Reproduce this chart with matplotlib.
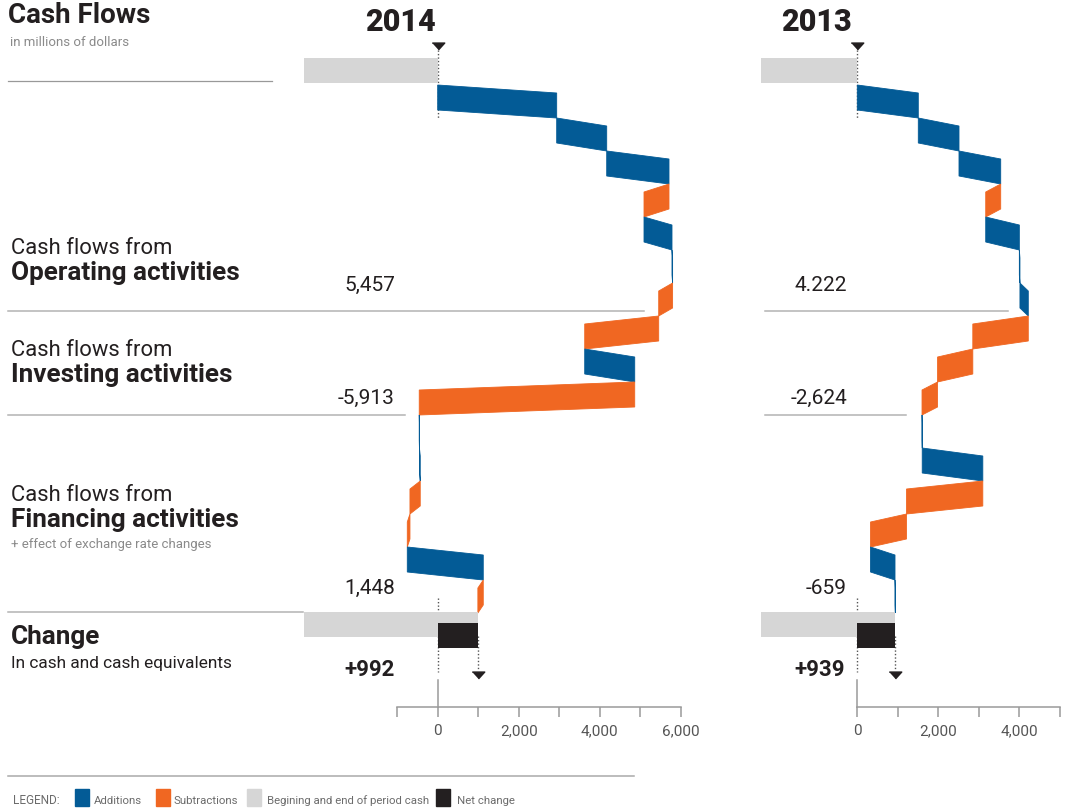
import matplotlib
matplotlib.use("Agg")
import matplotlib.pyplot as plt
from matplotlib.lines import Line2D
from matplotlib.patches import Rectangle
import numpy as np

# Cash flow items in millions of dollars (top to bottom)
ops_2014 = [2938, 1235, 1538, -617, 691, 15, -343]
inv_2014 = [-1827, 1235, -5321]
fin_2014 = [5, 20, -254, -66, 1876, -133]
begin_cash_2014 = 3309

ops_2013 = [1506, 1005, 1030, -370, 830, 15, 206]
inv_2013 = [-1370, -870, -384]
fin_2013 = [5, 1496, -1884, -889, 605, 8]
begin_cash_2013 = 2370

subtotals_2014 = ["5,457", "-5,913", "1,448"]
subtotals_2013 = ["4.222", "-2,624", "-659"]
net_2014 = "+992"
net_2013 = "+939"

section_heads = ["Operating activities", "Investing activities", "Financing activities"]
legend_labels = ["Additions", "Subtractions", "Begining and end of period cash", "Net change"]

BLUE = "#035b96"
ORANGE = "#f06722"
GREY = "#d6d6d6"
BLACK = "#231f20"
RULE = "#b3b3b3"
AXIS = "#9a9a9a"

W, H = 1072, 810
ROW0, ROW_H = 85, 33          # pixel top of first flow row, row pitch
SLANT, THICK = 8 / 33, 25 / 33
PX_PER_UNIT = 81 / 2000
TRI = [(-1, 0.55), (1, 0.55), (0, -0.55)]

plt.rcParams['font.family'] = ['Roboto', 'DejaVu Sans']

fig = plt.figure(figsize=(W / 100, H / 100), dpi=100)


def fx(x):
    return x / W


def fy(y):
    return 1 - y / H


def row(ypx):
    return (ypx - ROW0) / ROW_H


def hline(x0, x1, y, color=RULE, lw=1.1):
    fig.add_artist(Line2D([fx(x0), fx(x1)], [fy(y), fy(y)], color=color, lw=lw,
                          transform=fig.transFigure))


def draw_year(zero_px, xlim, flows, begin_cash, axis_range):
    left = zero_px + xlim[0] * PX_PER_UNIT
    width = (xlim[1] - xlim[0]) * PX_PER_UNIT
    ax = fig.add_axes([fx(left), 0, width / W, 1])
    ax.set_xlim(*xlim)
    ax.set_ylim(row(H), row(0))
    ax.patch.set_visible(False)
    for s in ['top', 'left', 'right']:
        ax.spines[s].set_visible(False)
    ax.set_yticks([])

    # opening cash
    ax.barh(row(70.5), begin_cash, left=-begin_cash, height=THICK, color=GREY, zorder=2)

    # slanted ribbons, each starting where the previous one ended
    pos = 0
    for i, v in enumerate(flows):
        end = pos + v
        ax.fill([pos, end, end, pos], [i, i + SLANT, i + SLANT + THICK, i + THICK],
                color=BLUE if v >= 0 else ORANGE, lw=0.6, zorder=2)
        pos = end
    net = pos
    n = len(flows)

    # closing cash and net change
    ax.barh(n + 0.35, begin_cash + net, left=-begin_cash, height=THICK, color=GREY, zorder=2)
    ax.barh(n + 0.68, net, left=0, height=THICK, color=BLACK, zorder=3)

    dot = dict(color="#555555", lw=1, ls=(0, (1, 1.5)), zorder=1)
    ax.plot([0, 0], [row(43), row(118)], **dot)
    ax.plot([0], [row(46)], marker=TRI, ms=9, color=BLACK, ls='none', clip_on=False)
    ax.plot([0, 0], [row(598), row(672)], **dot)
    ax.plot([net, net], [row(636), row(670)], **dot)
    ax.plot([net], [row(675.5)], marker=TRI, ms=9, color=BLACK, ls='none', clip_on=False)
    ax.plot([0, 0], [row(680), row(707)], color=AXIS, lw=1.1)

    ax.spines['bottom'].set_position(('data', row(707)))
    ax.spines['bottom'].set_bounds(*axis_range)
    ax.spines['bottom'].set_color(AXIS)
    ax.spines['bottom'].set_linewidth(1.1)
    ticks = np.arange(axis_range[0], axis_range[1] + 1, 1000)
    labels = [f"{t:,}" if t % 2000 == 0 and t >= 0 else "" for t in ticks]
    ax.set_xticks(ticks, labels)
    ax.tick_params(axis='x', length=7.2, width=1.1, color=AXIS, labelcolor="#555555",
                   labelsize=11, pad=5)
    return ax


draw_year(437.7, (-3700, 7000), ops_2014 + inv_2014 + fin_2014, begin_cash_2014, (-1000, 6000))
draw_year(857.3, (-2700, 5300), ops_2013 + inv_2013 + fin_2013, begin_cash_2013, (0, 5000))

# titles
fig.text(fx(8), fy(23), "Cash Flows", fontsize=20, fontweight='bold', color=BLACK)
fig.text(fx(10), fy(46.5), "in millions of dollars", fontsize=9.5, color="#8a8a8a")
hline(8, 272, 81, color="#999999", lw=0.9)
fig.text(fx(400), fy(31), "2014", fontsize=22, fontweight='black', color=BLACK, ha='center')
fig.text(fx(816), fy(31), "2013", fontsize=22, fontweight='black', color=BLACK, ha='center')

# section labels
head_base = [254, 356, 500.7]
for y0, head in zip(head_base, section_heads):
    fig.text(fx(11), fy(y0), "Cash flows from", fontsize=15.8, color=BLACK)
    fig.text(fx(11), fy(y0 + 26), head, fontsize=18.8, fontweight='bold', color=BLACK)
fig.text(fx(11), fy(548), "+ effect of exchange rate changes", fontsize=9.5, color="#8a8a8a")
fig.text(fx(11), fy(644), "Change", fontsize=18.8, fontweight='bold', color=BLACK)
fig.text(fx(11), fy(668.3), "In cash and cash equivalents", fontsize=12.4, color=BLACK)

# subtotals
sub_base = [290.7, 404, 594.3]
for y0, a, b in zip(sub_base, subtotals_2014, subtotals_2013):
    fig.text(fx(395), fy(y0), a, fontsize=15, color=BLACK, ha='right')
    fig.text(fx(847), fy(y0), b, fontsize=15, color=BLACK, ha='right')
fig.text(fx(395), fy(676), net_2014, fontsize=16, fontweight='bold', color=BLACK, ha='right')
fig.text(fx(845), fy(676), net_2013, fontsize=16, fontweight='bold', color=BLACK, ha='right')

hline(8, 644, 311)
hline(765, 1008, 311)
hline(8, 405, 415)
hline(765, 906, 415)
hline(8, 303, 612)

# legend
hline(8, 634, 776, color="#aaaaaa")
fig.text(fx(13), fy(803.5), "LEGEND:", fontsize=8.5, color="#6b6b6b")
sq_x = [75, 156, 247, 436]
txt_x = [94, 174, 267, 457]
for sx, tx, lab, col in zip(sq_x, txt_x, legend_labels, [BLUE, ORANGE, GREY, BLACK]):
    fig.add_artist(Rectangle((fx(sx), fy(806)), 14 / W, 17 / H, color=col,
                             transform=fig.transFigure))
    fig.text(fx(tx), fy(803.5), lab, fontsize=8.2, color="#6b6b6b")

fig.savefig("out.png", dpi=100)
